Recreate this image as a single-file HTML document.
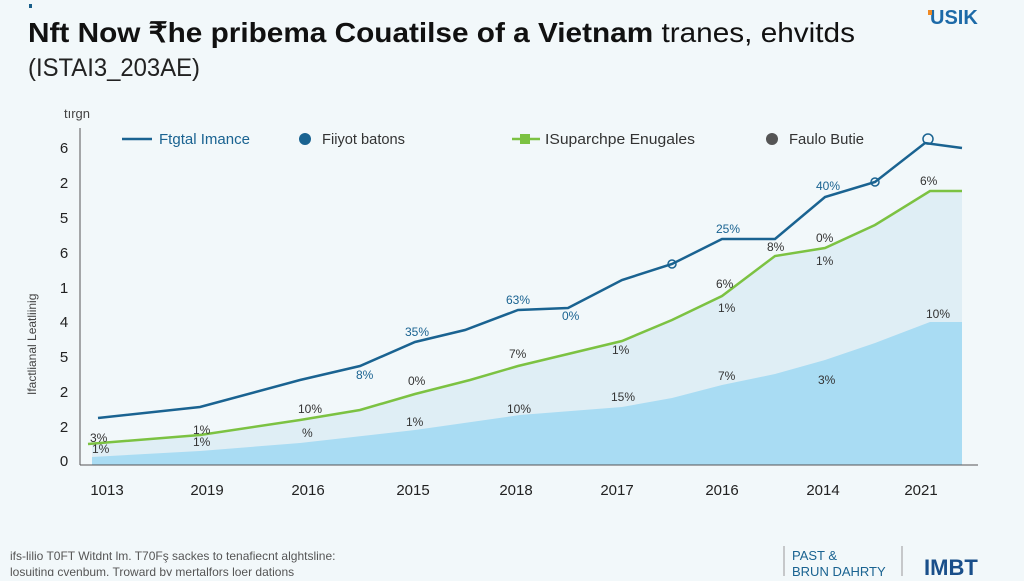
<!DOCTYPE html>
<html><head><meta charset="utf-8"><style>
body{margin:0;width:1024px;height:576px;overflow:hidden;background:#f2f8fa;font-family:"Liberation Sans",sans-serif}
</style></head><body>
<svg width="1024" height="576" viewBox="0 0 1024 576" xmlns="http://www.w3.org/2000/svg" font-family="Liberation Sans, sans-serif">
<rect width="1024" height="576" fill="#f2f8fa"/>
<rect x="29" y="4" width="3" height="4" fill="#1a5f8a"/>
<text x="28" y="42" font-size="28" font-weight="bold" fill="#111" textLength="827" lengthAdjust="spacingAndGlyphs">Nft Now ₹he pribema Couatilse of a Vietnam <tspan font-weight="normal">tranes, ehvitds</tspan></text>
<text x="28" y="76" font-size="25" fill="#222" textLength="172" lengthAdjust="spacingAndGlyphs">(ISTAI3_203AE)</text>
<text x="930" y="24" font-size="20" font-weight="bold" fill="#1d6aa8">USIK</text>
<rect x="928" y="10" width="4" height="5" fill="#f08a24"/>
<text x="64" y="118" font-size="13" fill="#444">tırgn</text>
<polygon points="92,465 92,444 200,435 300,420 360,410 415,394 470,380 518,366 568,354 622,341 672,320 722,296 775,256 825,248 875,225 930,191 962,191 962,465" fill="#dfeef5"/>
<polygon points="92,465 92,457 200,451 300,443 415,430 520,415 622,407 672,398 722,385 775,374 825,360 875,343 930,322 962,322 962,465" fill="#a9dcf3"/>
<polyline points="88,444 200,435 300,420 360,410 415,394 470,380 518,366 568,354 622,341 672,320 722,296 775,256 825,248 875,225 930,191 962,191" fill="none" stroke="#7cc242" stroke-width="2.5"/>
<polyline points="98,418 200,407 300,380 360,366 415,342 465,330 518,310 568,308 622,280 672,264 722,239 775,239 825,197 875,182 925,143 962,148" fill="none" stroke="#1a6391" stroke-width="2.5"/>
<line x1="80" y1="128" x2="80" y2="465" stroke="#555" stroke-width="1"/>
<line x1="80" y1="465" x2="978" y2="465" stroke="#555" stroke-width="1"/>
<g font-size="15" fill="#222" text-anchor="middle">
<text x="64" y="153">6</text><text x="64" y="188">2</text><text x="64" y="223">5</text><text x="64" y="258">6</text><text x="64" y="293">1</text><text x="64" y="327">4</text><text x="64" y="362">5</text><text x="64" y="397">2</text><text x="64" y="432">2</text><text x="64" y="466">0</text>
<text x="107" y="495">1013</text><text x="207" y="495">2019</text><text x="308" y="495">2016</text><text x="413" y="495">2015</text><text x="516" y="495">2018</text><text x="617" y="495">2017</text><text x="722" y="495">2016</text><text x="823" y="495">2014</text><text x="921" y="495">2021</text>
</g>
<text transform="translate(36,395) rotate(-90)" font-size="12" fill="#444">Ifactlianal Leatliinig</text>
<line x1="122" y1="139" x2="152" y2="139" stroke="#1a6391" stroke-width="2.5"/>
<text x="159" y="144" font-size="15" fill="#1a6391" textLength="91" lengthAdjust="spacingAndGlyphs">Ftgtal Imance</text>
<circle cx="305" cy="139" r="6" fill="#1a6391"/>
<text x="322" y="144" font-size="15" fill="#333" textLength="83" lengthAdjust="spacingAndGlyphs">Fiiyot batons</text>
<line x1="512" y1="139" x2="540" y2="139" stroke="#7cc242" stroke-width="2.5"/>
<rect x="520" y="134" width="10" height="10" fill="#7cc242"/>
<text x="545" y="144" font-size="15" fill="#333" textLength="150" lengthAdjust="spacingAndGlyphs">ISuparchpe Enugales</text>
<circle cx="772" cy="139" r="6" fill="#555"/>
<text x="789" y="144" font-size="15" fill="#333" textLength="75" lengthAdjust="spacingAndGlyphs">Faulo Butie</text>
<g font-size="12" fill="#333">
<text x="90" y="442">3%</text><text x="92" y="453">1%</text>
<text x="193" y="434">1%</text><text x="193" y="446">1%</text>
<text x="298" y="413">10%</text><text x="302" y="437">%</text>
<text x="405" y="336" fill="#1a6391">35%</text><text x="356" y="379" fill="#1a6391">8%</text>
<text x="408" y="385">0%</text><text x="406" y="426">1%</text>
<text x="506" y="304" fill="#1a6391">63%</text><text x="562" y="320" fill="#1a6391">0%</text>
<text x="509" y="358">7%</text><text x="507" y="413">10%</text>
<text x="612" y="354">1%</text><text x="611" y="401">15%</text>
<text x="716" y="233" fill="#1a6391">25%</text><text x="716" y="288">6%</text><text x="718" y="312">1%</text><text x="718" y="380">7%</text>
<text x="767" y="251">8%</text><text x="816" y="242">0%</text><text x="816" y="265">1%</text><text x="818" y="384">3%</text>
<text x="816" y="190" fill="#1a6391">40%</text><text x="920" y="185">6%</text><text x="926" y="318">10%</text>
</g>
<circle cx="672" cy="264" r="4" fill="none" stroke="#1a6391" stroke-width="1.5"/>
<circle cx="875" cy="182" r="4" fill="none" stroke="#1a6391" stroke-width="1.5"/>
<circle cx="928" cy="139" r="5" fill="none" stroke="#1a6391" stroke-width="1.5"/>
<text x="10" y="560" font-size="12" fill="#555">ifs-lilio T0FT Witdnt lm. T70Fş sackes to tenafiecnt alghtsline:</text>
<text x="10" y="576" font-size="12" fill="#555">losuiting cvenbum. Troward by mertalfors loer dations</text>
<line x1="784" y1="546" x2="784" y2="576" stroke="#999"/>
<text x="792" y="560" font-size="13" fill="#1a6391">PAST &amp;</text>
<text x="792" y="576" font-size="13" fill="#1a6391">BRUN DAHRTY</text>
<line x1="902" y1="546" x2="902" y2="576" stroke="#999"/>
<text x="924" y="575" font-size="22" font-weight="bold" fill="#1a4f8a">IMBT</text>
</svg>
</body></html>
